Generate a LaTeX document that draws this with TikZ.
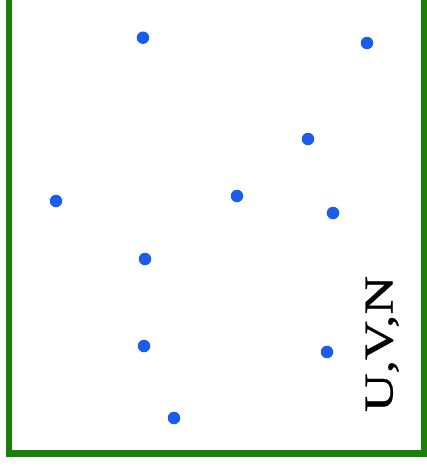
\documentclass[tikz,border=0pt]{standalone}
\usepackage{fontspec}
\setmainfont{Liberation Serif}
\newfontfamily\heavyserif[FakeBold=0.7]{Liberation Serif}
\begin{document}
\begin{tikzpicture}[x=1pt,y=-1pt,
  dot/.style={circle,fill=dotblue,inner sep=0pt,minimum size=12.5pt},
  frame/.style={draw=framegreen,line width=6.5pt}]
\definecolor{dotblue}{RGB}{26,92,236}
\definecolor{framegreen}{RGB}{26,128,10}
\useasboundingbox (0,0) rectangle (427,466);
\draw[frame] (8.8,-20) -- (8.8,453.3) -- (424.2,453.3) -- (424.2,-20);
\node[dot] (p1) at (143,37.7) {};
\node[dot] (p2) at (367,43) {};
\node[dot] (p3) at (308,139) {};
\node[dot] (p4) at (56,201) {};
\node[dot] (p5) at (237,196) {};
\node[dot] (p6) at (333,213) {};
\node[dot] (p7) at (145,259) {};
\node[dot] (p8) at (144,346) {};
\node[dot] (p9) at (327,352) {};
\node[dot] (p10) at (174,418) {};
\node[rotate=90,font=\heavyserif\fontsize{41}{41}\selectfont,inner sep=0pt,anchor=base] (lbl) at (392.5,344) {\scalebox{1.31}[1]{U,V,N}};
\end{tikzpicture}
\end{document}
